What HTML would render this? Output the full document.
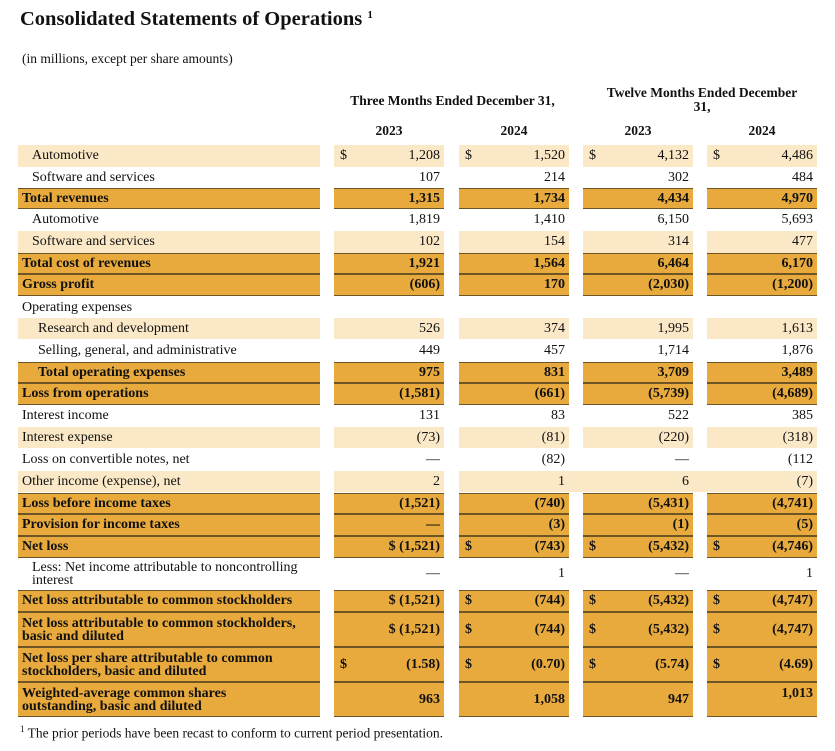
<!DOCTYPE html>
<html><head><meta charset="utf-8"><style>
body{margin:0;width:835px;height:751px;background:#fff;font-family:"Liberation Serif",serif;color:#111;position:relative;overflow:hidden}
.t{position:absolute;left:20px;top:8px;font-size:20.5px;font-weight:bold}
.t sup{font-size:11px;vertical-align:7px}
.s{position:absolute;left:22px;top:51px;font-size:13.5px}
.h{position:absolute;font-size:13.5px;font-weight:bold;text-align:center}
.r{position:absolute;left:0;width:835px;font-size:14px}
.r>div{position:absolute;top:0;height:100%;box-sizing:border-box;display:flex;align-items:center;white-space:nowrap}
.l{left:18px;width:302px;padding-left:14px}
.c{justify-content:space-between;padding:0 4px 0 6px}
.c1{left:334px;width:110px}.c2{left:459px;width:110px}.c3{left:583px;width:110px}.c4{left:707px;width:110px}
.c span:last-child{margin-left:auto}
.lt>div{background:#fbe8c6}
.d>div{background:#e8aa3d;border-top:1.5px solid #6e5526;border-bottom:1.5px solid #6e5526;font-weight:bold}
.d>.l{padding-left:4px}
.n>.l{padding-left:4px}
.i>.l{padding-left:20px}
.f{position:absolute;left:20px;top:724px;font-size:13.5px}
</style></head><body>
<div class="t">Consolidated Statements of Operations <sup>1</sup></div>
<div class="s">(in millions, except per share amounts)</div>
<div class="h" style="left:330px;width:245px;top:93px">Three Months Ended December 31,</div>
<div class="h" style="left:590px;width:224px;top:86px;line-height:14px">Twelve Months Ended December<br>31,</div>
<div class="h" style="left:334px;width:110px;top:123px">2023</div>
<div class="h" style="left:459px;width:110px;top:123px">2024</div>
<div class="h" style="left:583px;width:110px;top:123px">2023</div>
<div class="h" style="left:707px;width:110px;top:123px">2024</div>

<div class="r lt" style="top:145px;height:22px"><div class="l">Automotive</div><div class="c c1"><span>$</span><span>1,208</span></div><div class="c c2"><span>$</span><span>1,520</span></div><div class="c c3"><span>$</span><span>4,132</span></div><div class="c c4"><span>$</span><span>4,486</span></div></div>
<div class="r" style="top:167px;height:21px"><div class="l">Software and services</div><div class="c c1"><span>107</span></div><div class="c c2"><span>214</span></div><div class="c c3"><span>302</span></div><div class="c c4"><span>484</span></div></div>
<div class="r d" style="top:188px;height:21px"><div class="l">Total revenues</div><div class="c c1"><span>1,315</span></div><div class="c c2"><span>1,734</span></div><div class="c c3"><span>4,434</span></div><div class="c c4"><span>4,970</span></div></div>
<div class="r" style="top:209px;height:22px"><div class="l">Automotive</div><div class="c c1"><span>1,819</span></div><div class="c c2"><span>1,410</span></div><div class="c c3"><span>6,150</span></div><div class="c c4"><span>5,693</span></div></div>
<div class="r lt" style="top:231px;height:22px"><div class="l">Software and services</div><div class="c c1"><span>102</span></div><div class="c c2"><span>154</span></div><div class="c c3"><span>314</span></div><div class="c c4"><span>477</span></div></div>
<div class="r d" style="top:253px;height:21px"><div class="l">Total cost of revenues</div><div class="c c1"><span>1,921</span></div><div class="c c2"><span>1,564</span></div><div class="c c3"><span>6,464</span></div><div class="c c4"><span>6,170</span></div></div>
<div class="r d" style="top:274px;height:22px"><div class="l">Gross profit</div><div class="c c1"><span>(606)</span></div><div class="c c2"><span>170</span></div><div class="c c3"><span>(2,030)</span></div><div class="c c4"><span>(1,200)</span></div></div>
<div class="r n" style="top:297px;height:21px"><div class="l">Operating expenses</div></div>
<div class="r lt i" style="top:318px;height:21px"><div class="l">Research and development</div><div class="c c1"><span>526</span></div><div class="c c2"><span>374</span></div><div class="c c3"><span>1,995</span></div><div class="c c4"><span>1,613</span></div></div>
<div class="r i" style="top:340px;height:21px"><div class="l">Selling, general, and administrative</div><div class="c c1"><span>449</span></div><div class="c c2"><span>457</span></div><div class="c c3"><span>1,714</span></div><div class="c c4"><span>1,876</span></div></div>
<div class="r d" style="top:362px;height:21px"><div class="l" style="padding-left:20px">Total operating expenses</div><div class="c c1"><span>975</span></div><div class="c c2"><span>831</span></div><div class="c c3"><span>3,709</span></div><div class="c c4"><span>3,489</span></div></div>
<div class="r d" style="top:383px;height:22px"><div class="l">Loss from operations</div><div class="c c1"><span>(1,581)</span></div><div class="c c2"><span>(661)</span></div><div class="c c3"><span>(5,739)</span></div><div class="c c4"><span>(4,689)</span></div></div>
<div class="r n" style="top:405px;height:21px"><div class="l">Interest income</div><div class="c c1"><span>131</span></div><div class="c c2"><span>83</span></div><div class="c c3"><span>522</span></div><div class="c c4"><span>385</span></div></div>
<div class="r lt n" style="top:427px;height:21px"><div class="l">Interest expense</div><div class="c c1"><span>(73)</span></div><div class="c c2"><span>(81)</span></div><div class="c c3"><span>(220)</span></div><div class="c c4"><span>(318)</span></div></div>
<div class="r n" style="top:449px;height:21px"><div class="l">Loss on convertible notes, net</div><div class="c c1"><span>—</span></div><div class="c c2"><span>(82)</span></div><div class="c c3"><span>—</span></div><div class="c c4"><span>(112</span></div></div>
<div class="r lt n" style="top:471px;height:21px"><div class="l">Other income (expense), net</div><div style="left:569px;width:14px"></div><div style="left:693px;width:14px"></div><div class="c c1"><span>2</span></div><div class="c c2"><span>1</span></div><div class="c c3"><span>6</span></div><div class="c c4"><span>(7)</span></div></div>
<div class="r d" style="top:493px;height:21px"><div class="l">Loss before income taxes</div><div class="c c1"><span>(1,521)</span></div><div class="c c2"><span>(740)</span></div><div class="c c3"><span>(5,431)</span></div><div class="c c4"><span>(4,741)</span></div></div>
<div class="r d" style="top:514px;height:22px"><div class="l">Provision for income taxes</div><div class="c c1"><span>—</span></div><div class="c c2"><span>(3)</span></div><div class="c c3"><span>(1)</span></div><div class="c c4"><span>(5)</span></div></div>
<div class="r d" style="top:536px;height:22px"><div class="l">Net loss</div><div class="c c1"><span>$ (1,521)</span></div><div class="c c2"><span>$</span><span>(743)</span></div><div class="c c3"><span>$</span><span>(5,432)</span></div><div class="c c4"><span>$</span><span>(4,746)</span></div></div>
<div class="r" style="top:558px;height:31px"><div class="l" style="line-height:13px">Less: Net income attributable to noncontrolling<br>interest</div><div class="c c1"><span>—</span></div><div class="c c2"><span>1</span></div><div class="c c3"><span>—</span></div><div class="c c4"><span>1</span></div></div>
<div class="r d" style="top:590px;height:22px"><div class="l">Net loss attributable to common stockholders</div><div class="c c1"><span>$ (1,521)</span></div><div class="c c2"><span>$</span><span>(744)</span></div><div class="c c3"><span>$</span><span>(5,432)</span></div><div class="c c4"><span>$</span><span>(4,747)</span></div></div>
<div class="r d" style="top:612px;height:35px"><div class="l" style="line-height:13px">Net loss attributable to common stockholders,<br>basic and diluted</div><div class="c c1"><span>$ (1,521)</span></div><div class="c c2"><span>$</span><span>(744)</span></div><div class="c c3"><span>$</span><span>(5,432)</span></div><div class="c c4"><span>$</span><span>(4,747)</span></div></div>
<div class="r d" style="top:647px;height:35px"><div class="l" style="line-height:13px">Net loss per share attributable to common<br>stockholders, basic and diluted</div><div class="c c1"><span>$</span><span>(1.58)</span></div><div class="c c2"><span>$</span><span>(0.70)</span></div><div class="c c3"><span>$</span><span>(5.74)</span></div><div class="c c4"><span>$</span><span>(4.69)</span></div></div>
<div class="r d" style="top:682px;height:35px"><div class="l" style="line-height:13px">Weighted-average common shares<br>outstanding, basic and diluted</div><div class="c c1"><span>963</span></div><div class="c c2"><span>1,058</span></div><div class="c c3"><span>947</span></div><div class="c c4" style="align-items:flex-start;padding-top:3px"><span>1,013</span></div></div>
<div class="f"><sup style="font-size:9px">1</sup> The prior periods have been recast to conform to current period presentation.</div>
</body></html>
